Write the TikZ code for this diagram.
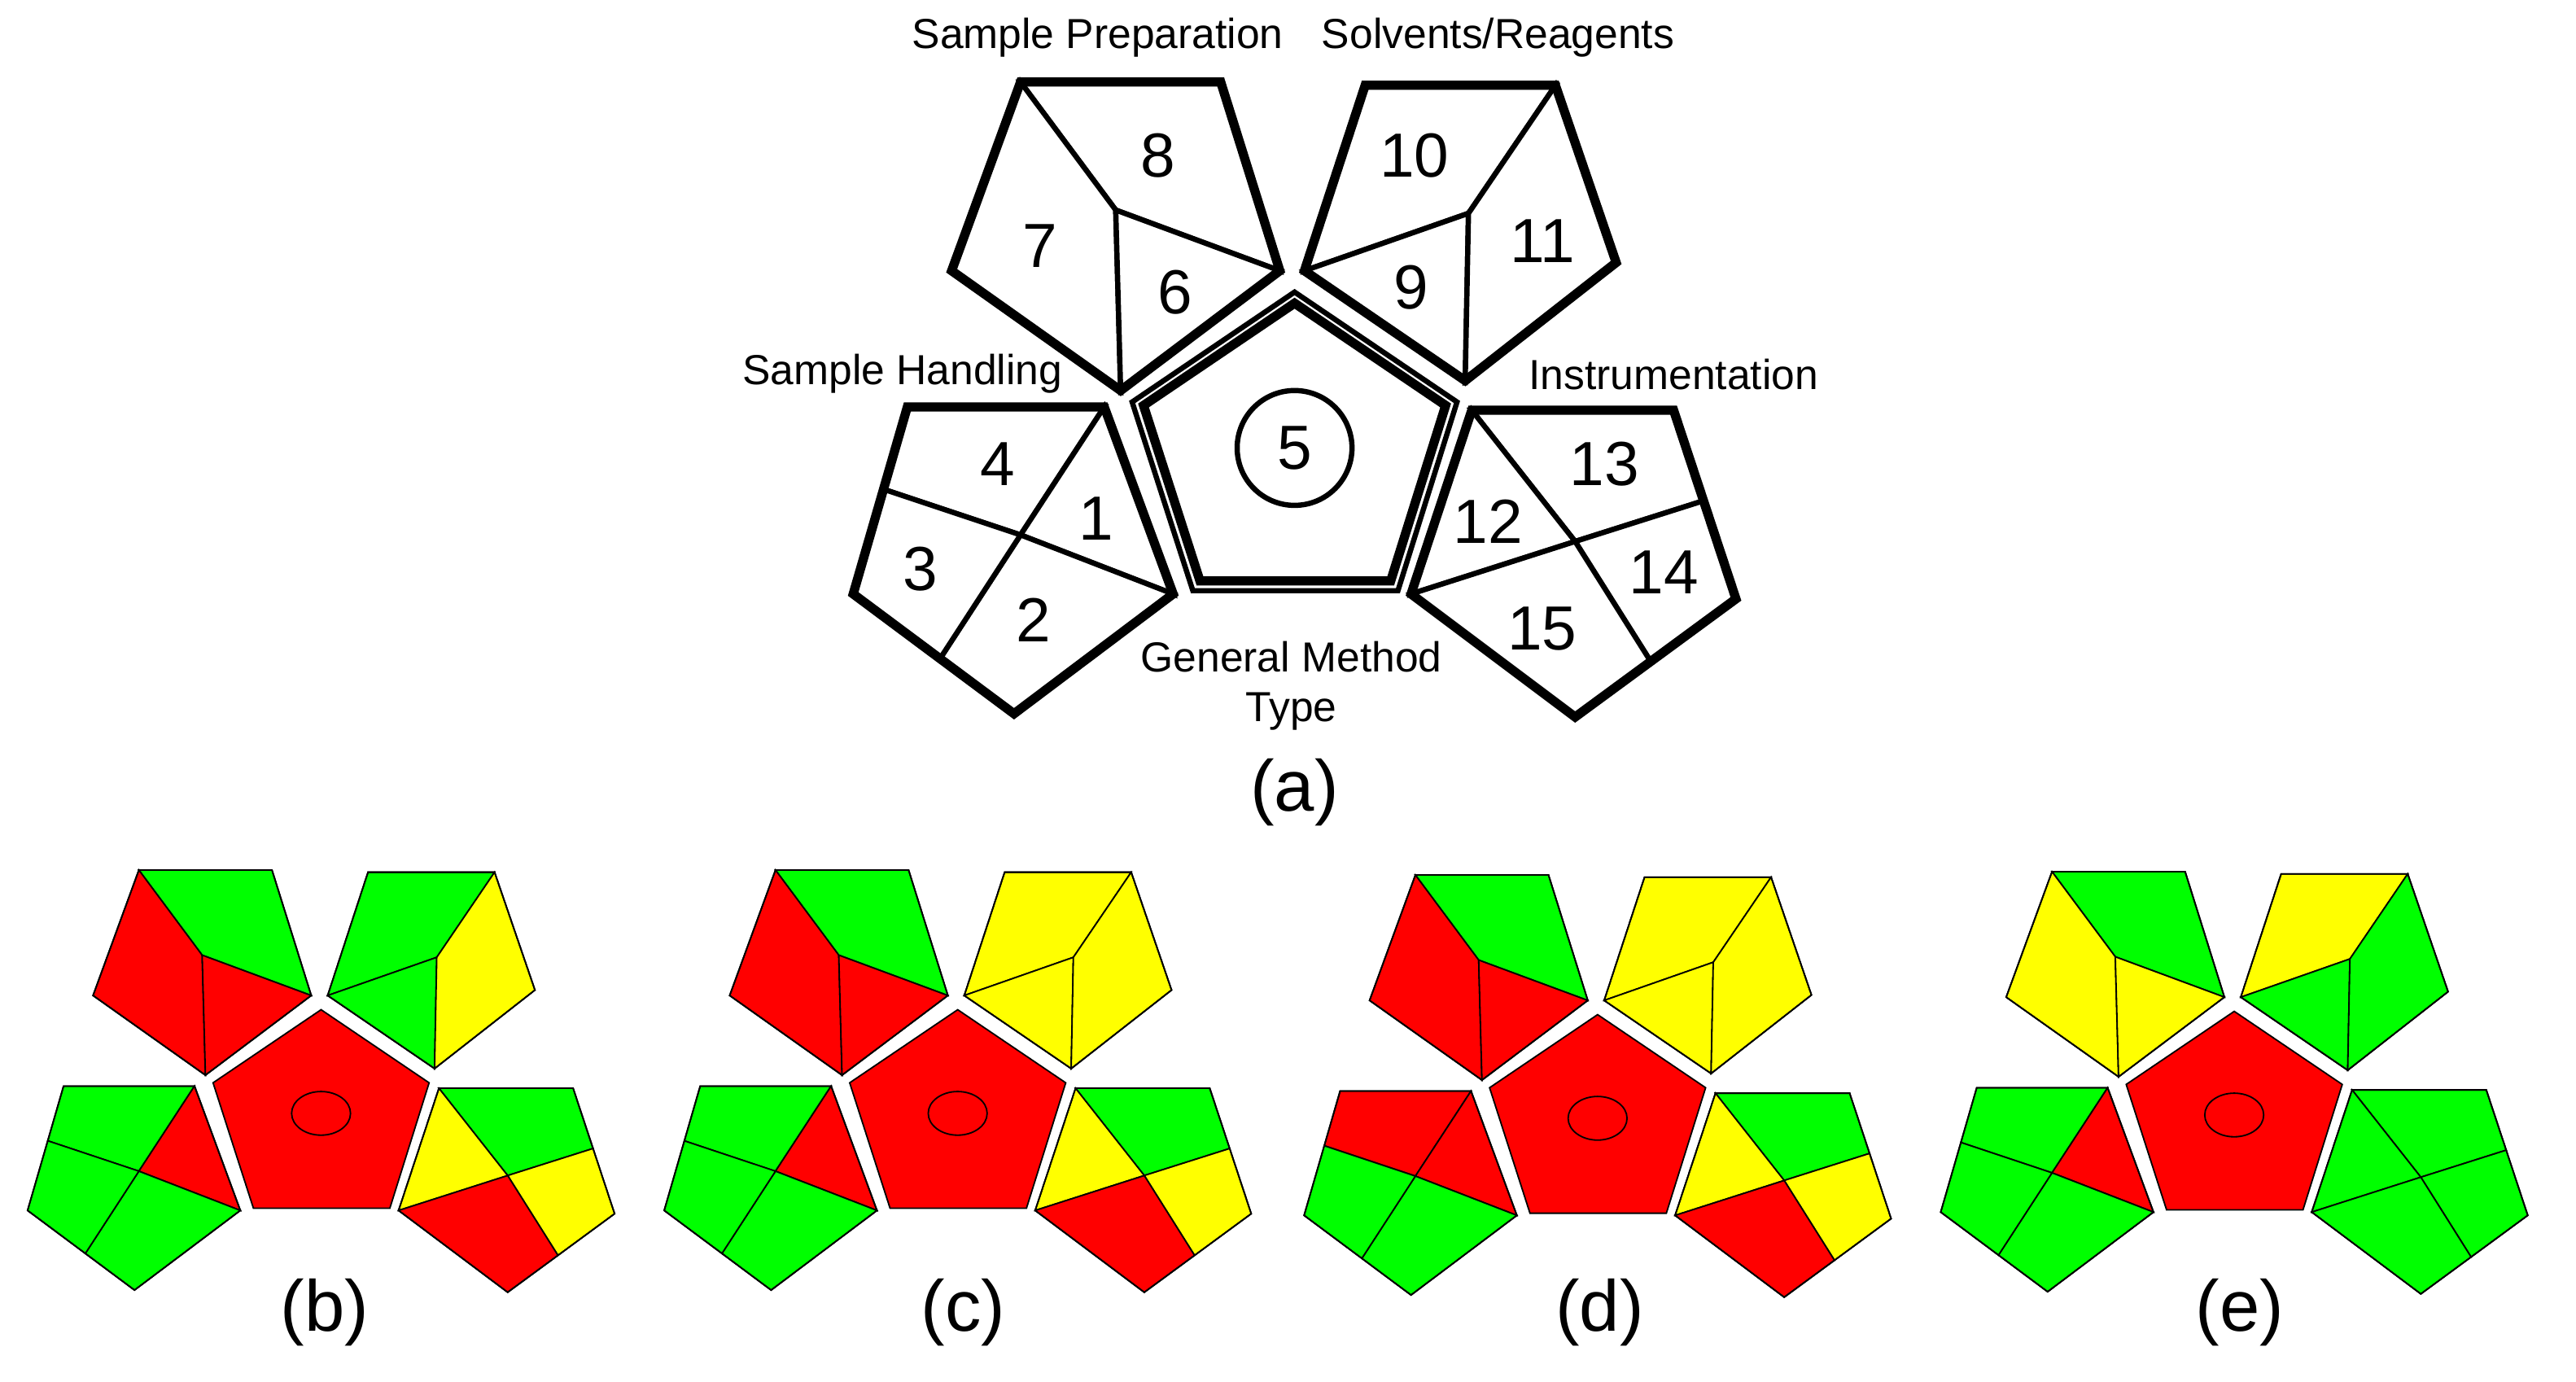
\documentclass[tikz,border=0pt]{standalone}
\usepackage{fontspec}
\setmainfont{Liberation Sans}
\usetikzlibrary{calc}
\definecolor{gR}{RGB}{255,0,0}
\definecolor{gG}{RGB}{0,255,0}
\definecolor{gY}{RGB}{255,255,0}
\newcommand\colsA[8]{\def\cS{#1}\def\cE{#2}\def\cX{#3}\def\cT{#4}\def\cN{#5}\def\cL{#6}\def\cF{#7}\def\cO{#8}}
\newcommand\colsB[8]{\def\cW{#1}\def\cH{#2}\def\cTh{#3}\def\cTw{#4}\def\cFo{#5}\def\cFi{#6}\def\cC{#7}\def\cV{#8}}
\newcommand\pentlayout{%
  \coordinate (P1) at (622,50); \coordinate (P2) at (744,50); \coordinate (P3) at (780,165);
  \coordinate (P4) at (683,238); \coordinate (P5) at (580,165); \coordinate (C) at (680,128);
  \coordinate (Q1) at (832,52); \coordinate (Q2) at (948,52); \coordinate (Q3) at (985,160);
  \coordinate (Q4) at (893,232); \coordinate (Q5) at (795,165); \coordinate (D) at (895,130);
  \coordinate (R1) at (553,248); \coordinate (R2) at (673,248); \coordinate (R3) at (715,362);
  \coordinate (R4) at (618,435); \coordinate (R5) at (520,362); \coordinate (E) at (622,326);
  \coordinate (Ra) at ($(R1)!0.44!(R5)$); \coordinate (Rb) at ($(R5)!0.54!(R4)$);
  \coordinate (S1) at (897,250); \coordinate (S2) at (1020,250); \coordinate (S3) at (1058,365);
  \coordinate (S4) at (960,437); \coordinate (S5) at (860,362); \coordinate (F) at (960,330);
  \coordinate (Sa) at ($(S2)!0.48!(S3)$); \coordinate (Sb) at ($(S3)!0.53!(S4)$);
  \coordinate (M1) at (789,178); \coordinate (M2) at (888,245); \coordinate (M3) at (852,360);
  \coordinate (M4) at (727,360); \coordinate (M5) at (690,245); \coordinate (MC) at (789,275);
  \filldraw[fill=\cE,il] (P1)--(P2)--(P3)--(C)--cycle;
  \filldraw[fill=\cS,il] (P1)--(C)--(P4)--(P5)--cycle;
  \filldraw[fill=\cX,il] (C)--(P3)--(P4)--cycle;
  \filldraw[fill=\cT,il] (Q1)--(Q2)--(D)--(Q5)--cycle;
  \filldraw[fill=\cN,il] (Q5)--(D)--(Q4)--cycle;
  \filldraw[fill=\cL,il] (Q2)--(Q3)--(Q4)--(D)--cycle;
  \filldraw[fill=\cFo,il] (R1)--(R2)--(E)--(Ra)--cycle;
  \filldraw[fill=\cO,il] (R2)--(R3)--(E)--cycle;
  \filldraw[fill=\cTw,il] (E)--(R3)--(R4)--(Rb)--cycle;
  \filldraw[fill=\cTh,il] (Ra)--(E)--(Rb)--(R5)--cycle;
  \filldraw[fill=\cH,il] (S1)--(S2)--(Sa)--(F)--cycle;
  \filldraw[fill=\cW,il] (S1)--(F)--(S5)--cycle;
  \filldraw[fill=\cC,il] (F)--(Sa)--(S3)--(Sb)--cycle;
  \filldraw[fill=\cV,il] (S5)--(F)--(Sb)--(S4)--cycle;
  \filldraw[fill=\cFi,il] (M1)--(M2)--(M3)--(M4)--(M5)--cycle;
  \draw[ol] (P1)--(P2)--(P3)--(P4)--(P5)--cycle;
  \draw[ol] (Q1)--(Q2)--(Q3)--(Q4)--(Q5)--cycle;
  \draw[ol] (R1)--(R2)--(R3)--(R4)--(R5)--cycle;
  \draw[ol] (S1)--(S2)--(S3)--(S4)--(S5)--cycle;
}
\begin{document}
\begin{tikzpicture}[x=0.5pt,y=-0.5pt,line join=miter]
\useasboundingbox[fill=white] (0,0) rectangle (1570,842);
% ---------- panel (a)
\begin{scope}[il/.style={line width=1.6pt},ol/.style={line width=2.8pt}]
\colsA{white}{white}{white}{white}{white}{white}{white}{white}
\colsB{white}{white}{white}{white}{white}{white}{white}{white}
\pentlayout
\draw[line width=1pt] (M1)--(M2)--(M3)--(M4)--(M5)--cycle;
\draw[line width=2.8pt] ($(MC)!0.93!(M1)$)--($(MC)!0.93!(M2)$)--($(MC)!0.93!(M3)$)--($(MC)!0.93!(M4)$)--($(MC)!0.93!(M5)$)--cycle;
\draw[line width=1.6pt] (789,273) circle[radius=35];
\end{scope}
\begin{scope}[font=\fontsize{19}{22}\selectfont]
\node (n8) at (706,95) {8}; \node (n7) at (634,150) {7}; \node (n6) at (716,178) {6};
\node (n10) at (862,95) {10}; \node (n9) at (860,175) {9}; \node (n11) at (940,147) {11};
\node (n4) at (608,283) {4}; \node (n1) at (668,316) {1}; \node (n3) at (561,347) {3}; \node (n2) at (630,378) {2};
\node (n13) at (978,283) {13}; \node (n12) at (907,318) {12}; \node (n14) at (1014,349) {14}; \node (n15) at (940,383) {15};
\node (n5) at (789,273) {5};
\end{scope}
\begin{scope}[font=\fontsize{12.8}{15}\selectfont]
\node (lsp) at (669,23) {Sample Preparation};
\node (lsr) at (913,23) {Solvents/Reagents};
\node (lsh) at (550,228) {Sample Handling};
\node (lin) at (1020,228) {Instrumentation};
\node[align=center] (lgm) at (787,418) {General Method\\Type};
\end{scope}
\begin{scope}[font=\fontsize{22}{25}\selectfont]
\node (la) at (789,483) {(a)};
\node (lb) at (198,800) {(b)};
\node (lc) at (587,800) {(c)};
\node (ld) at (975,800) {(d)};
\node (le) at (1365,800) {(e)};
\end{scope}
% ---------- small panels
\tikzset{il/.style={line width=0.45pt},ol/.style={line width=0.45pt}}
\begin{scope}[shift={(-329,497)},scale=0.665]
\colsA{gR}{gG}{gR}{gG}{gG}{gY}{gG}{gR}
\colsB{gY}{gG}{gG}{gG}{gG}{gR}{gY}{gR}
\pentlayout \draw[line width=0.45pt] (789,273) ellipse[x radius=27,y radius=20];
\end{scope}
\begin{scope}[shift={(59,497)},scale=0.665]
\colsA{gR}{gG}{gR}{gY}{gY}{gY}{gG}{gR}
\colsB{gY}{gG}{gG}{gG}{gG}{gR}{gY}{gR}
\pentlayout \draw[line width=0.45pt] (789,273) ellipse[x radius=27,y radius=20];
\end{scope}
\begin{scope}[shift={(449,500)},scale=0.665]
\colsA{gR}{gG}{gR}{gY}{gY}{gY}{gR}{gR}
\colsB{gY}{gG}{gG}{gG}{gR}{gR}{gY}{gR}
\pentlayout \draw[line width=0.45pt] (789,273) ellipse[x radius=27,y radius=20];
\end{scope}
\begin{scope}[shift={(837,498)},scale=0.665]
\colsA{gY}{gG}{gY}{gY}{gG}{gG}{gG}{gR}
\colsB{gG}{gG}{gG}{gG}{gG}{gR}{gG}{gG}
\pentlayout \draw[line width=0.45pt] (789,273) ellipse[x radius=27,y radius=20];
\end{scope}
\end{tikzpicture}
\end{document}
